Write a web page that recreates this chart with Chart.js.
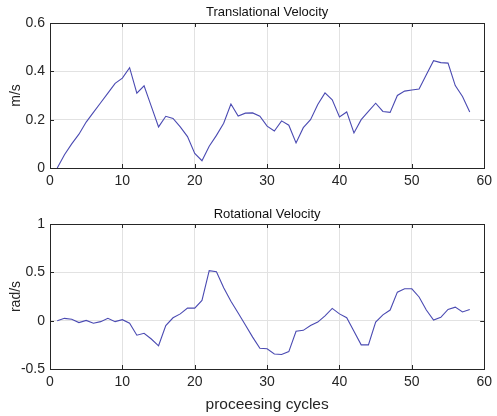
<!DOCTYPE html>
<html>
<head>
<meta charset="utf-8">
<script src="https://cdn.jsdelivr.net/npm/chart.js@4"></script>
<style>
  html, body { margin: 0; padding: 0; background: #fff; }
  #wrap { position: relative; width: 497px; height: 416px; }
  canvas { position: absolute; left: 0; }
  #transChart { top: 0; }
  #rotChart { top: 200px; }
</style>
</head>
<body>
<div id="wrap">
  <canvas id="transChart" width="497" height="200"></canvas>
  <canvas id="rotChart" width="497" height="216"></canvas>
</div>
<script>
const cycles = [
    1, 2, 3, 4, 5, 6, 7, 8, 9, 10,
    11, 12, 13, 14, 15, 16, 17, 18, 19, 20,
    21, 22, 23, 24, 25, 26, 27, 28, 29, 30,
    31, 32, 33, 34, 35, 36, 37, 38, 39, 40,
    41, 42, 43, 44, 45, 46, 47, 48, 49, 50,
    51, 52, 53, 54, 55, 56, 57, 58
];

// m/s
const translational = [
    0.000, 0.055, 0.100, 0.140, 0.190, 0.230, 0.270, 0.310, 0.350, 0.372,
    0.415, 0.310, 0.340, 0.255, 0.170, 0.214, 0.205, 0.170, 0.130, 0.060,
    0.030, 0.090, 0.135, 0.185, 0.265, 0.215, 0.227, 0.228, 0.214, 0.173,
    0.153, 0.195, 0.177, 0.104, 0.167, 0.200, 0.263, 0.311, 0.282, 0.211,
    0.232, 0.145, 0.200, 0.234, 0.268, 0.234, 0.230, 0.300, 0.318, 0.323,
    0.327, 0.386, 0.444, 0.436, 0.434, 0.341, 0.296, 0.232
];

// rad/s
const rotational = [
    0.000, 0.024, 0.014, -0.020, 0.003, -0.027, -0.010, 0.024, -0.010, 0.010,
    -0.027, -0.150, -0.130, -0.190, -0.260, -0.050, 0.030, 0.070, 0.130, 0.130,
    0.210, 0.517, 0.507, 0.340, 0.200, 0.080, -0.045, -0.170, -0.285, -0.290,
    -0.345, -0.350, -0.320, -0.110, -0.100, -0.050, -0.015, 0.050, 0.127, 0.070,
    0.030, -0.110, -0.250, -0.250, -0.015, 0.060, 0.110, 0.295, 0.330, 0.330,
    0.245, 0.110, 0.007, 0.034, 0.116, 0.140, 0.090, 0.116
];

const xTicks = { min: 0, max: 60, step: 10 };
const transTicks = { min: 0, max: 0.6, step: 0.2 };
const rotTicks = { min: -0.5, max: 1, step: 0.5 };

const FONT = "'Liberation Sans', Arial, sans-serif";
const AXIS_COLOR = '#262626';
const GRID_COLOR = '#e2e2e2';
const LINE_COLOR = '#4a4ab2';

// shortest form of a tick value: 1 not 1.0, 0 not 0.0
const shortNum = v => String(+Number(v).toFixed(2));

// box, inward tick marks and the panel title, drawn the way MATLAB does it
const matlabAxes = {
    id: 'matlabAxes',
    afterDraw(chart, args, opts) {
        const ctx = chart.ctx;
        const a = chart.chartArea;
        const x = chart.scales.x;
        const y = chart.scales.y;
        const len = 4;
        ctx.save();
        ctx.strokeStyle = AXIS_COLOR;
        ctx.lineWidth = 1;
        ctx.beginPath();
        x.ticks.forEach(t => {
            const px = Math.round(x.getPixelForValue(t.value)) + 0.5;
            ctx.moveTo(px, a.bottom); ctx.lineTo(px, a.bottom - len);
            ctx.moveTo(px, a.top); ctx.lineTo(px, a.top + len);
        });
        y.ticks.forEach(t => {
            const py = Math.round(y.getPixelForValue(t.value)) + 0.5;
            ctx.moveTo(a.left, py); ctx.lineTo(a.left + len, py);
            ctx.moveTo(a.right, py); ctx.lineTo(a.right - len, py);
        });
        ctx.stroke();
        ctx.strokeRect(Math.round(a.left) + 0.5, Math.round(a.top) + 0.5,
            Math.round(a.right - a.left), Math.round(a.bottom - a.top));

        ctx.fillStyle = '#111';
        ctx.font = `13px ${FONT}`;
        ctx.textAlign = 'center';
        ctx.textBaseline = 'middle';
        ctx.fillText(opts.text, (a.left + a.right) / 2, opts.y);
        ctx.restore();
    }
};

function makeChart(id, values, yt, yLabel, title, xLabel) {
    const ctx = document.getElementById(id).getContext('2d');
    const points = cycles.map((c, i) => ({ x: c, y: values[i] }));
    const tickFont = { family: FONT, size: 14 };

    return new Chart(ctx, {
        type: 'line',
        data: {
            datasets: [{
                data: points,
                borderColor: LINE_COLOR,
                borderWidth: 1.1,
                pointRadius: 0,
                tension: 0,
                fill: false
            }]
        },
        options: {
            responsive: false,
            animation: false,
            events: [],
            layout: { padding: { left: 0, right: 8, top: title.top, bottom: 0 } },
            plugins: {
                legend: { display: false },
                tooltip: { enabled: false },
                matlabAxes: { text: title.text, y: title.y }
            },
            scales: {
                x: {
                    type: 'linear',
                    min: xTicks.min,
                    max: xTicks.max,
                    afterFit(s) { s.height = xLabel ? 47 : 32; },
                    ticks: { stepSize: xTicks.step, color: AXIS_COLOR, font: tickFont, padding: 5, maxRotation: 0, callback: shortNum },
                    grid: { color: GRID_COLOR, drawTicks: false },
                    border: { display: false },
                    title: {
                        display: !!xLabel,
                        text: xLabel || '',
                        color: AXIS_COLOR,
                        font: { family: FONT, size: 15.5 },
                        padding: { top: 0, bottom: 2 }
                    }
                },
                y: {
                    min: yt.min,
                    max: yt.max,
                    afterFit(s) { s.width = 50; },
                    ticks: { stepSize: yt.step, color: AXIS_COLOR, font: tickFont, padding: 5, callback: shortNum },
                    grid: { color: GRID_COLOR, drawTicks: false },
                    border: { display: false },
                    title: {
                        display: true,
                        text: yLabel,
                        color: AXIS_COLOR,
                        font: { family: FONT, size: 14 },
                        padding: { top: 8, bottom: 0 }
                    }
                }
            }
        },
        plugins: [matlabAxes]
    });
}

makeChart('transChart', translational, transTicks, 'm/s',
    { text: 'Translational Velocity', top: 23, y: 12 }, null);
makeChart('rotChart', rotational, rotTicks, 'rad/s',
    { text: 'Rotational Velocity', top: 24, y: 14 }, 'proceesing cycles');
</script>
</body>
</html>
